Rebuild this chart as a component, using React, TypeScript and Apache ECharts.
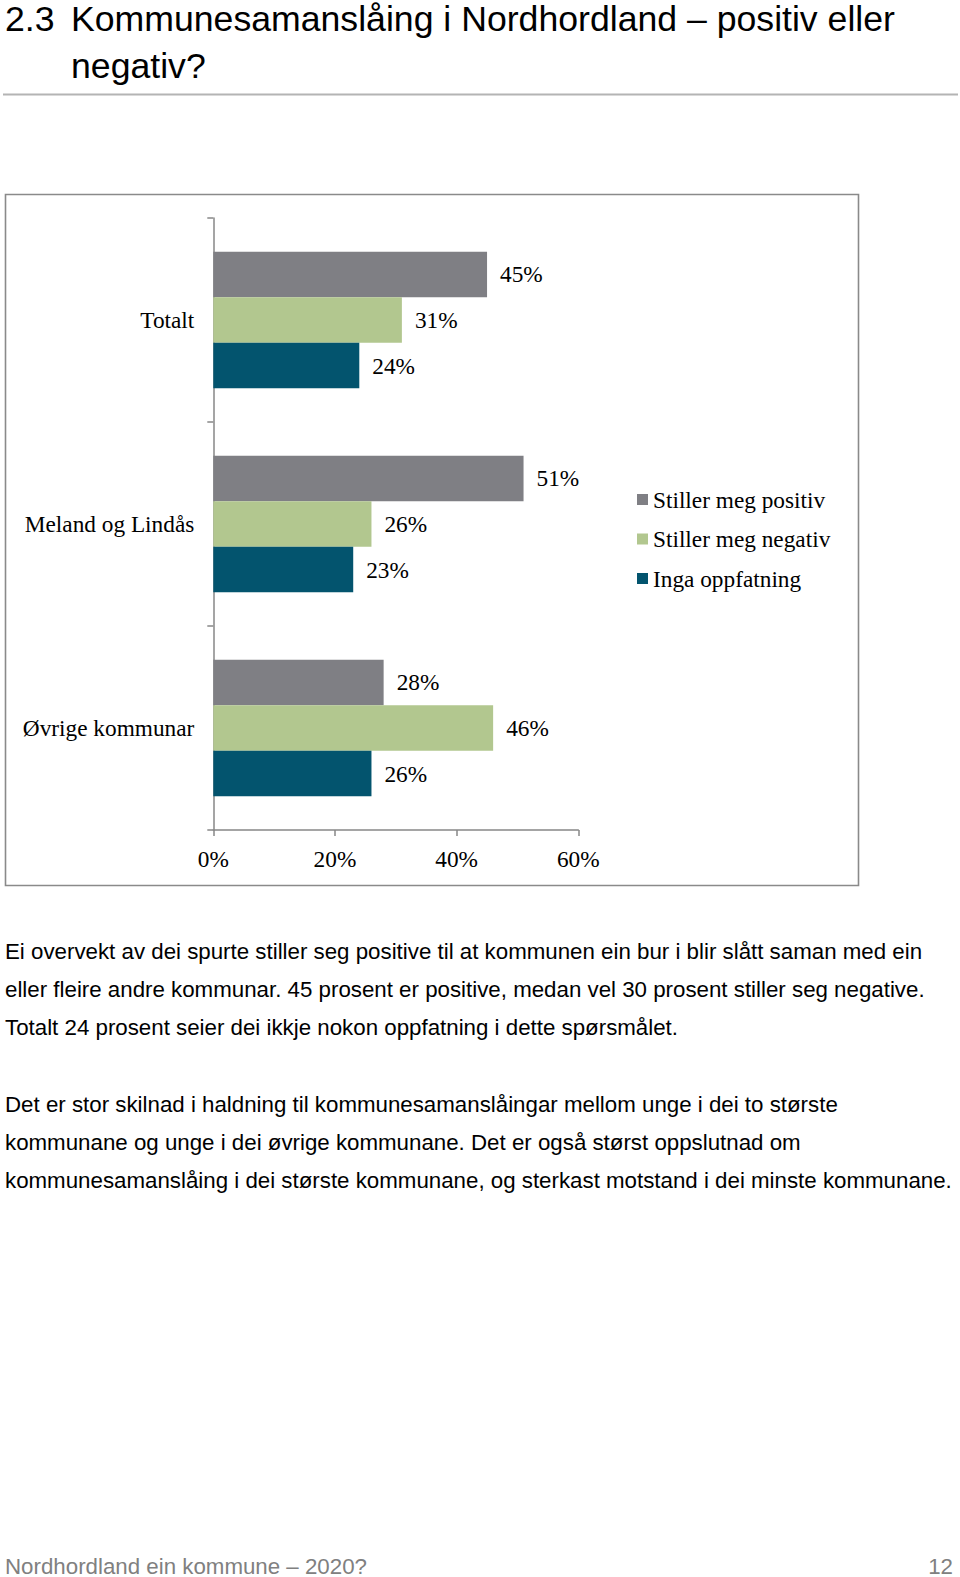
import React, { useEffect, useRef } from "react";
import * as echarts from "echarts";

const categories = ["Totalt", "Meland og Lindås", "Øvrige kommunar"];
const seriesNames = ["Stiller meg positiv", "Stiller meg negativ", "Inga oppfatning"];
const positiv = [45, 51, 28];
const negativ = [31, 26, 46];
const inga = [24, 23, 26];
const xTicks = [0, 20, 40, 60];

const titleLines = ["Kommunesamanslåing i Nordhordland – positiv eller", "negativ?"];
const para1 = [
  "Ei overvekt av dei spurte stiller seg positive til at kommunen ein bur i blir slått saman med ein",
  "eller fleire andre kommunar. 45 prosent er positive, medan vel 30 prosent stiller seg negative.",
  "Totalt 24 prosent seier dei ikkje nokon oppfatning i dette spørsmålet.",
];
const para2 = [
  "Det er stor skilnad i haldning til kommunesamanslåingar mellom unge i dei to største",
  "kommunane og unge i dei øvrige kommunane. Det er også størst oppslutnad om",
  "kommunesamanslåing i dei største kommunane, og sterkast motstand i dei minste kommunane.",
];
const footer = "Nordhordland ein kommune – 2020?";
const pageNo = "12";

const COLORS = ["#7f7f84", "#b2c78f", "#03546e"];
const SERIF = "'Liberation Serif', 'DejaVu Serif', serif";
const SANS = "'Liberation Sans', Arial, sans-serif";
const AXIS = "#878787";
const SF = 23.3;

export default function App() {
  const ref = useRef<HTMLDivElement>(null);
  useEffect(() => {
    if (!ref.current) return;
    const chart = echarts.init(ref.current, undefined, { renderer: "svg" });
    const values = [positiv, negativ, inga];
    const textEl = (
      text: string,
      x: number,
      y: number,
      size: number,
      scaleX = 1,
      color = "#000",
      align = "left"
    ) => ({
      type: "text",
      x,
      y,
      scaleX,
      silent: true,
      style: { text, fontSize: size, fontFamily: SANS, fill: color, align, verticalAlign: "middle" },
    });
    const graphics: any[] = [
      textEl("2.3", 5, 19, 36, 0.99),
      textEl(titleLines[0], 71, 19, 36, 0.99),
      textEl(titleLines[1], 71, 66, 36, 0.99),
      { type: "line", silent: true, shape: { x1: 3, y1: 94.5, x2: 958, y2: 94.5 }, style: { stroke: "#b4b4b4", lineWidth: 2 } },
      { type: "rect", silent: true, z: -1, shape: { x: 5.5, y: 194.5, width: 853, height: 691 }, style: { fill: "#fff", stroke: "#8a8a8a", lineWidth: 1.6 } },
    ];
    para1.forEach((t, i) => graphics.push(textEl(t, 5, 951 + i * 38, 22.3, 1.0)));
    para2.forEach((t, i) => graphics.push(textEl(t, 5, 1104.5 + i * 38, 22.3, 1.0)));
    graphics.push(textEl(footer, 5, 1566, 22.3, 1.0, "#808080"));
    graphics.push(textEl(pageNo, 953, 1566, 22.3, 1.0, "#808080", "right"));

    chart.setOption({
      animation: false,
      grid: { left: 213.3, top: 218, width: 365, height: 612, containLabel: false },
      legend: {
        orient: "vertical",
        left: 632,
        top: 483,
        itemWidth: 11,
        itemHeight: 11,
        itemGap: 16.5,
        icon: "rect",
        data: seriesNames,
        textStyle: { fontFamily: SERIF, fontSize: SF, color: "#000", lineHeight: 22.5 },
      },
      xAxis: {
        type: "value",
        min: 0,
        max: 60,
        interval: 20,
        axisLine: { show: true, lineStyle: { color: AXIS, width: 1.5 } },
        axisTick: { show: true, length: 6, lineStyle: { color: AXIS, width: 1.5 } },
        splitLine: { show: false },
        axisLabel: {
          margin: 17,
          fontFamily: SERIF,
          fontSize: SF,
          color: "#000",
          formatter: (v: number) => (xTicks.includes(v) ? v + "%" : ""),
        },
      },
      yAxis: {
        type: "category",
        inverse: true,
        data: categories,
        axisLine: { show: true, lineStyle: { color: AXIS, width: 1.5 } },
        axisTick: { show: true, length: 6, lineStyle: { color: AXIS, width: 1.5 } },
        axisLabel: { margin: 19, fontFamily: SERIF, fontSize: SF, color: "#000" },
      },
      series: seriesNames.map((name, i) => ({
        type: "bar",
        name,
        data: values[i],
        barGap: "0%",
        barCategoryGap: "33%",
        itemStyle: { color: COLORS[i] },
        label: {
          show: true,
          position: "right",
          distance: 13,
          formatter: "{c}%",
          fontFamily: SERIF,
          fontSize: SF,
          color: "#000",
        },
      })),
      graphic: graphics,
    });
    return () => chart.dispose();
  }, []);
  return <div ref={ref} style={{ position: "absolute", left: 0, top: 0, width: 960, height: 1577, background: "#fff" }} />;
}
